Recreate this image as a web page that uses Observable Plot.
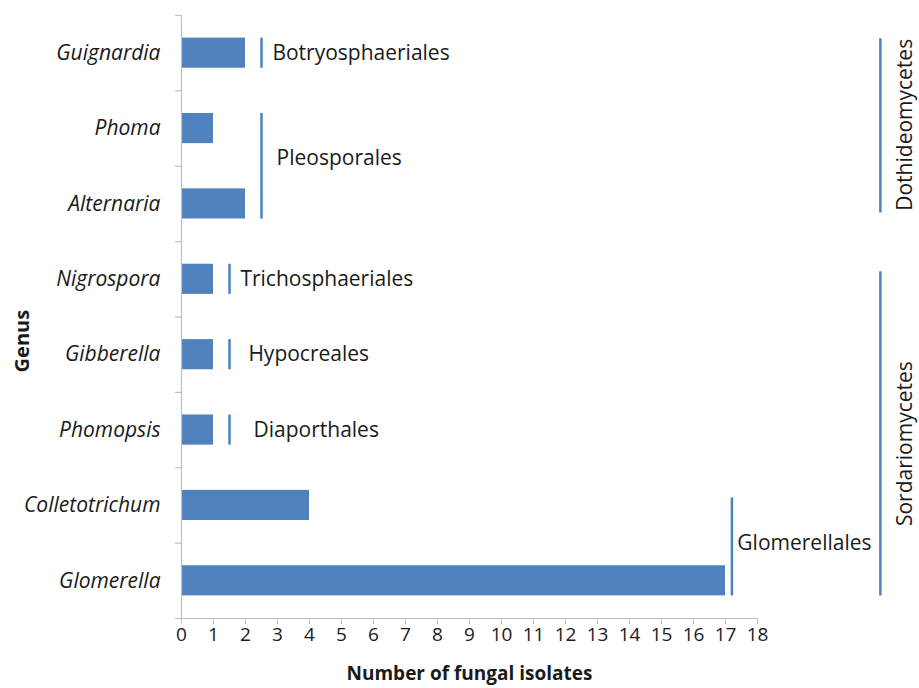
<!DOCTYPE html>
<html>
<head>
<meta charset="utf-8">
<script src="https://cdn.jsdelivr.net/npm/d3@7"></script>
<script src="https://cdn.jsdelivr.net/npm/@observablehq/plot@0.6"></script>
<style>
  html, body { margin: 0; padding: 0; background: #fff; }
</style>
</head>
<body>
<div id="chart"></div>
<script>
// ---- data ----
const genera = ["Guignardia", "Phoma", "Alternaria", "Nigrospora", "Gibberella", "Phomopsis", "Colletotrichum", "Glomerella"];
const isolates = [2, 1, 2, 1, 1, 1, 4, 17];
const xTickValues = [0, 1, 2, 3, 4, 5, 6, 7, 8, 9, 10, 11, 12, 13, 14, 15, 16, 17, 18];

const orderNames = ["Botryosphaeriales", "Pleosporales", "Trichosphaeriales", "Hypocreales", "Diaporthales", "Glomerellales"];
const orderFirstGenus = ["Guignardia", "Phoma", "Nigrospora", "Gibberella", "Phomopsis", "Colletotrichum"];
const orderLastGenus = ["Guignardia", "Alternaria", "Nigrospora", "Gibberella", "Phomopsis", "Glomerella"];

const classNames = ["Dothideomycetes", "Sordariomycetes"];
const classFirstGenus = ["Guignardia", "Nigrospora"];
const classLastGenus = ["Alternaria", "Glomerella"];

// ---- layout (positions in axis units) ----
const orderLineX = [2.5, 2.5, 1.5, 1.5, 1.5, 17.2];
const orderLabelX = [2.84, 2.97, 1.84, 2.09, 2.25, 17.37];
const orderTopPad = [0.2, 0.2, 0.2, 0.2, 0.2, 0.1];
const orderLabelDy = [0, -0.1, 0, 0, 0, 0];
const classLineX = 21.84;
const classLabelX = 22.63;
const barHalf = 0.2;

const idx = g => genera.indexOf(g);
const bars = genera.map((g, i) => ({genus: g, i, value: isolates[i]}));
const orders = orderNames.map((name, k) => {
  const a = idx(orderFirstGenus[k]), b = idx(orderLastGenus[k]);
  return {name, x: orderLineX[k], lx: orderLabelX[k], y1: a - orderTopPad[k], y2: b + barHalf, ly: (a + b) / 2 + orderLabelDy[k]};
});
const classes = classNames.map((name, k) => {
  const a = idx(classFirstGenus[k]), b = idx(classLastGenus[k]);
  return {name, y1: a - (k === 0 ? 0.19 : 0.1), y2: b + (k === 0 ? 0.12 : 0.2), ly: (a + b) / 2 + (k === 0 ? -0.05 : 0.18)};
});
const boundaries = genera.map((g, i) => i - 0.5).concat([genera.length - 0.5]);

const blue = "#4F81BD";
const axisGray = "#bfbfbf";
const ink = "#1a1a1a";

const chart = Plot.plot({
  width: 919,
  height: 688,
  marginLeft: 181,
  marginRight: 162,
  marginTop: 15,
  marginBottom: 70,
  style: {fontFamily: "'Open Sans', Lato, sans-serif", color: ink, background: "#fff"},
  x: {domain: [0, 18]},
  y: {domain: [-0.5, 7.5], reverse: true, axis: null},
  marks: [
    Plot.rectX(bars, {x1: 0, x2: "value", y1: d => d.i - barHalf, y2: d => d.i + barHalf, fill: blue}),
    // y axis line and boundary ticks
    Plot.ruleX([0], {x: d => d, y1: -0.5, y2: 7.5, stroke: axisGray, strokeWidth: 1.2}),
    Plot.ruleY(boundaries, {y: d => d, x1: -0.19, x2: 0, stroke: axisGray, strokeWidth: 1.2}),
    // x axis
    Plot.ruleY([7.5], {y: d => d, stroke: axisGray, strokeWidth: 1.2}),
    Plot.axisX({ticks: xTickValues, tickSize: 6, tickPadding: 3, fontSize: 19, stroke: axisGray, fill: ink, label: null, tickFormat: d => String(d)}),
    // genus labels
    Plot.text(bars, {x: 0, y: "i", text: "genus", textAnchor: "end", dx: -21, fontStyle: "italic", fontSize: 21, fill: ink}),
    // orders
    Plot.ruleX(orders, {x: "x", y1: "y1", y2: "y2", stroke: blue, strokeWidth: 2.5}),
    Plot.text(orders, {x: "lx", y: "ly", text: "name", textAnchor: "start", fontSize: 21, fill: ink}),
    // classes
    Plot.ruleX(classes, {x: classLineX, y1: "y1", y2: "y2", stroke: blue, strokeWidth: 2.5}),
    Plot.text(classes, {x: classLabelX, y: "ly", text: "name", rotate: -90, fontSize: 21, fill: ink}),
    // axis titles
    Plot.text(["Genus"], {x: -4.97, y: 3.82, text: d => d, rotate: -90, fontWeight: "bold", fontSize: 20, fill: ink}),
    Plot.text(["Number of fungal isolates"], {x: 9, y: 8.24, text: d => d, fontWeight: "bold", fontSize: 19, fill: ink})
  ]
});
document.getElementById("chart").appendChild(chart);
</script>
</body>
</html>
